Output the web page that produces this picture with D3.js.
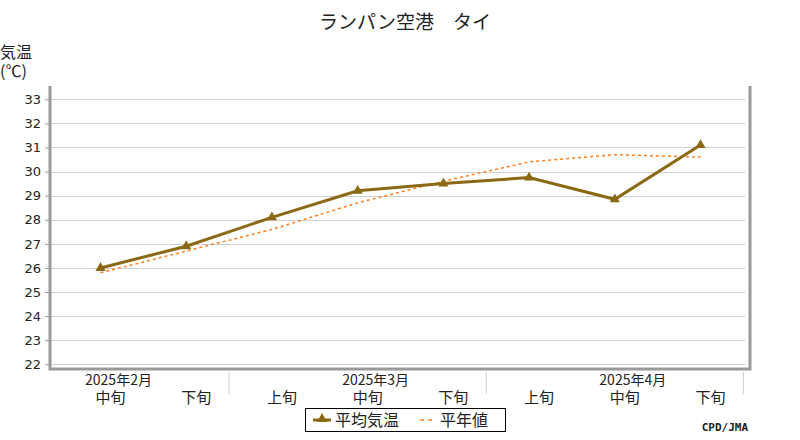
<!DOCTYPE html>
<html><head><meta charset="utf-8">
<script src="https://cdn.jsdelivr.net/npm/d3@7"></script>
<style>body{margin:0;background:#fff}svg{font-family:"Noto Sans CJK JP","DejaVu Sans",sans-serif}</style>
</head><body><svg id="c" width="800" height="440"></svg>
<script>
const categories = ["2月中旬","2月下旬","3月上旬","3月中旬","3月下旬","4月上旬","4月中旬","4月下旬"];
const decadeLabels = ["中旬","下旬","上旬","中旬","下旬","上旬","中旬","下旬"];
const monthLabels = [{i:0,t:"2025年2月"},{i:3,t:"2025年3月"},{i:6,t:"2025年4月"}];
const avgTemp = [26.0,26.9,28.1,29.2,29.5,29.75,28.85,31.1];
const normalTemp = [25.8,26.7,27.6,28.7,29.6,30.4,30.7,30.6];
const yTicks = [22,23,24,25,26,27,28,29,30,31,32,33];

const svg = d3.select("#c");
const L=50,R=745,T=86,B=369;
const x = d3.scalePoint().domain(categories).range([100.5,700.5]);
const y = d3.scaleLinear().domain([22,33]).range([364.3,99.3]);

svg.append("g").selectAll("line").data(yTicks).join("line")
 .attr("x1",L).attr("x2",R).attr("y1",d=>Math.round(y(d))+0.5).attr("y2",d=>Math.round(y(d))+0.5)
 .attr("stroke","#d0d0d0");
const ya = svg.append("g").attr("transform",`translate(${L},0)`)
 .call(d3.axisLeft(y).tickValues(yTicks).tickSize(5).tickPadding(4).tickFormat(d3.format("d")));
ya.select(".domain").remove();
ya.selectAll("line").attr("stroke","#999");
ya.selectAll("text").attr("font-family","DejaVu Sans").attr("font-size",13).attr("fill","#222");
svg.append("path").attr("d",`M${L},${T}V${B}H${R+5}V${T}`).attr("fill","none").attr("stroke","#999").attr("stroke-width",3);

const xg = svg.append("g");
xg.selectAll("text.d").data(categories).join("text")
 .attr("x",(d)=>x(d)+10).attr("y",403).attr("text-anchor","middle").attr("font-size",15).attr("fill","#222")
 .text((d,i)=>decadeLabels[i]);
xg.selectAll("text.m").data(monthLabels).join("text")
 .attr("x",d=>x(categories[d.i])+18).attr("y",385).attr("text-anchor","middle").attr("font-size",14).attr("fill","#222")
 .text(d=>d.t);
const seps=[2,5,8];
xg.selectAll("line").data(seps).join("line")
 .attr("x1",d=>x(categories[0])+(d-0.5)*x.step()).attr("x2",d=>x(categories[0])+(d-0.5)*x.step())
 .attr("y1",372).attr("y2",394).attr("stroke","#ccc");

const line = d3.line().x((d,i)=>x(categories[i])).y(d=>y(d));
svg.append("path").datum(normalTemp).attr("d",line).attr("fill","none").attr("stroke","#ff7f1f").attr("stroke-width",1.5).attr("stroke-dasharray","3,3");
svg.append("path").datum(avgTemp).attr("d",line).attr("fill","none").attr("stroke","#8b6914").attr("stroke-width",3);
const tri = d3.symbol().type(d3.symbolTriangle).size(45);
svg.selectAll("path.m").data(avgTemp).join("path").attr("class","m")
 .attr("transform",(d,i)=>`translate(${x(categories[i])},${y(d)})`).attr("d",tri).attr("fill","#8b6914");

svg.append("text").attr("x",405).attr("y",29).attr("text-anchor","middle").attr("font-size",19).attr("fill","#222").text("ランパン空港　タイ");
svg.append("text").attr("x",0).attr("y",58).attr("font-size",16).attr("fill","#222").text("気温");
svg.append("text").attr("x",0).attr("y",77).attr("font-size",16).attr("fill","#222").text("(℃)");

svg.append("rect").attr("x",305.5).attr("y",408.5).attr("width",200).attr("height",23).attr("fill","#fff").attr("stroke","#000");
svg.append("line").attr("x1",313).attr("x2",331).attr("y1",420).attr("y2",420).attr("stroke","#8b6914").attr("stroke-width",3);
svg.append("path").attr("transform","translate(322,419)").attr("d",tri).attr("fill","#8b6914");
svg.append("text").attr("x",335).attr("y",426).attr("font-size",16).attr("fill","#222").text("平均気温");
svg.append("line").attr("x1",420).attr("x2",436).attr("y1",420).attr("y2",420).attr("stroke","#ff7f1f").attr("stroke-width",1.5).attr("stroke-dasharray","4,4");
svg.append("text").attr("x",440).attr("y",426).attr("font-size",16).attr("fill","#222").text("平年値");
svg.append("text").attr("x",748).attr("y",431).attr("text-anchor","end").attr("font-family","DejaVu Sans Mono").attr("font-weight","bold").attr("font-size",11).attr("fill","#222").text("CPD/JMA");
</script></body></html>
